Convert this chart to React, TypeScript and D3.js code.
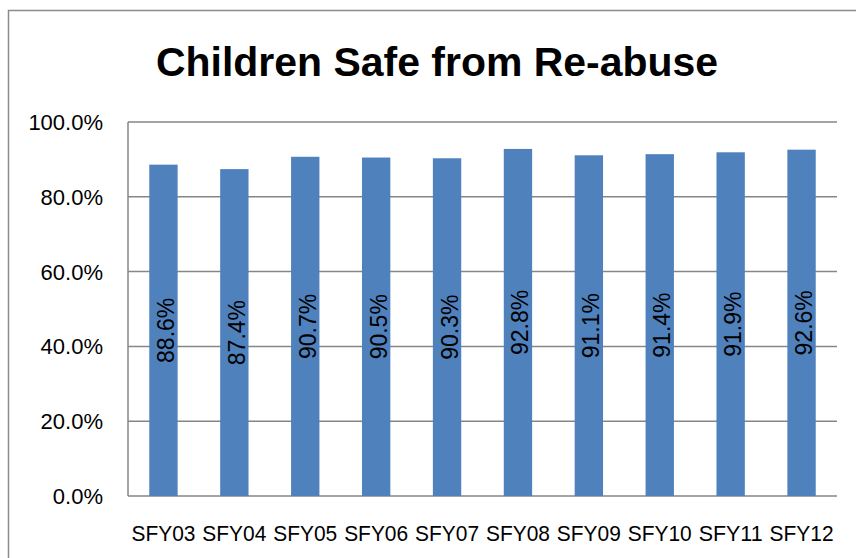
import React from "react";
import * as d3 from "d3";

const categories = ["SFY03", "SFY04", "SFY05", "SFY06", "SFY07", "SFY08", "SFY09", "SFY10", "SFY11", "SFY12"];
const values = [88.6, 87.4, 90.7, 90.5, 90.3, 92.8, 91.1, 91.4, 91.9, 92.6];
const yTicks = [0, 20, 40, 60, 80, 100];
const title = "Children Safe from Re-abuse";

const W = 856;
const H = 558;
const plot = { left: 128, right: 837, top: 122, bottom: 496 };
const font = "'Liberation Sans', Arial, sans-serif";

export default function App() {
  const x = d3
    .scaleBand<string>()
    .domain(categories)
    .range([plot.left, plot.right])
    .paddingInner(0.6)
    .paddingOuter(0.3);
  const y = d3.scaleLinear().domain([0, 100]).range([plot.bottom, plot.top]);
  const fmt = (v: number) => d3.format(".1f")(v) + "%";

  return (
    <svg
      width={W}
      height={H}
      style={{ position: "absolute", left: 0, top: 0, background: "#fff" }}
    >
      <rect x={8.5} y={10.5} width={W + 20} height={H + 20} fill="#fff" stroke="#8c8c8c" strokeWidth={1.5} />
      <text
        x={437}
        y={76}
        textAnchor="middle"
        fontFamily={font}
        fontWeight="bold"
        fontSize={40}
        textLength={562}
        lengthAdjust="spacingAndGlyphs"
        fill="#000"
      >
        {title}
      </text>
      {yTicks.map((t) => (
        <g key={t}>
          <line x1={plot.left} x2={plot.right} y1={y(t)} y2={y(t)} stroke="#868686" strokeWidth={1.5} />
          <text
            x={103}
            y={y(t) + 8}
            textAnchor="end"
            fontFamily={font}
            fontSize={22}
            fill="#000"
          >
            {fmt(t)}
          </text>
        </g>
      ))}
      <line x1={plot.left} x2={plot.left} y1={plot.top} y2={plot.bottom} stroke="#868686" strokeWidth={1.5} />
      {values.map((v, i) => {
        const c = categories[i];
        const bx = x(c)!;
        const bw = x.bandwidth();
        const cx = bx + bw / 2;
        const midY = (y(v) + y(0)) / 2;
        return (
          <g key={c}>
            <rect x={bx} y={y(v)} width={bw} height={y(0) - y(v)} fill="#4F81BD" />
            <text
              transform={`translate(${cx},${midY}) rotate(-90)`}
              y={10.5}
              textAnchor="middle"
              fontFamily={font}
              fontSize={23}
              fill="#000"
            >
              {fmt(v)}
            </text>
            <text
              x={cx}
              y={541}
              textAnchor="middle"
              fontFamily={font}
              fontSize={22}
              textLength={64}
              lengthAdjust="spacingAndGlyphs"
              fill="#000"
            >
              {c}
            </text>
          </g>
        );
      })}
    </svg>
  );
}
